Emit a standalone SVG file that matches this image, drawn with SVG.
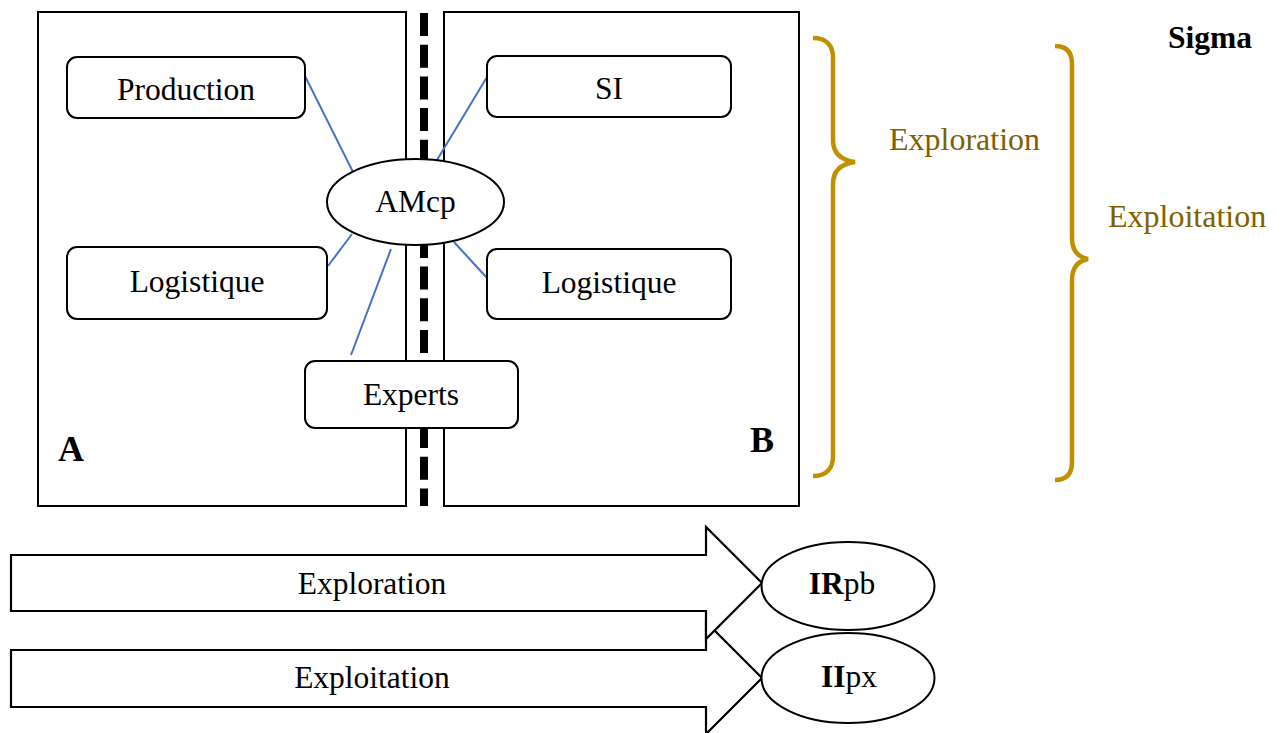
<svg xmlns="http://www.w3.org/2000/svg" width="1281" height="733" viewBox="0 0 1281 733" font-family="'Liberation Serif', 'Times New Roman', serif">
<style>
text{font-family:"Liberation Serif","Times New Roman",serif;font-size:31.5px;fill:#000}
.b{font-weight:bold}
.frame{fill:#fff;stroke:#000;stroke-width:2}
.node{fill:#fff;stroke:#000;stroke-width:2}
.link{stroke:#4472C4;stroke-width:2;fill:none}
.brace{fill:none;stroke:#BF9000;stroke-width:4.5}
.gold{fill:#806000;font-size:32px}
.arrow{fill:#fff;stroke:#000;stroke-width:2.2;stroke-linejoin:miter}
</style>
<rect width="1281" height="733" fill="#fff"/>
<g id="zoneA"><rect class="frame" x="38" y="12" width="368" height="494"/><text class="b" x="58" y="461" style="font-size:36px">A</text></g>
<g id="zoneB"><rect class="frame" x="444" y="12" width="355" height="494"/><text class="b" x="750" y="452" style="font-size:36px">B</text></g>
<line id="separator" x1="424" y1="13" x2="424" y2="506" stroke="#000" stroke-width="8" stroke-dasharray="23 8.7"/>
<g id="connectors">
<line class="link" x1="305" y1="76" x2="353" y2="172"/>
<line class="link" x1="487" y1="77" x2="437" y2="160"/>
<line class="link" x1="352" y1="234" x2="328" y2="266"/>
<line class="link" x1="391" y1="249" x2="351" y2="355"/>
<line class="link" x1="454" y1="242" x2="487" y2="278"/>
</g>
<g id="production"><rect class="node" x="67" y="57" width="238" height="61" rx="10"/><text x="186" y="100" text-anchor="middle">Production</text></g>
<g id="si"><rect class="node" x="487" y="56" width="244" height="61" rx="10"/><text x="609" y="99" text-anchor="middle">SI</text></g>
<g id="logistiqueA"><rect class="node" x="67" y="247" width="260" height="72" rx="10"/><text x="197" y="292" text-anchor="middle">Logistique</text></g>
<g id="logistiqueB"><rect class="node" x="487" y="249" width="244" height="70" rx="10"/><text x="609" y="293" text-anchor="middle">Logistique</text></g>
<g id="amcp"><ellipse class="node" cx="415.5" cy="202" rx="88.5" ry="43"/><text x="415.5" y="212" text-anchor="middle">AMcp</text></g>
<g id="experts"><rect class="node" x="305" y="361" width="213" height="67" rx="10"/><text x="411" y="405" text-anchor="middle">Experts</text></g>
<g id="braceExploration"><path class="brace" d="M813,38 C826,38 833,45 833,58 L833,140 C833,153 840,160 855,162 C840,164 833,171 833,184 L833,456 C833,469 826,476 813,476"/><text class="gold" x="889" y="150">Exploration</text></g>
<g id="braceExploitation"><path class="brace" d="M1055,46 C1066,46 1072,52 1072,64 L1072,238 C1072,250 1078,257 1088,259 C1078,261 1072,268 1072,280 L1072,462 C1072,474 1066,480 1055,480"/><text class="gold" x="1108" y="227">Exploitation</text></g>
<text id="sigma" class="b" x="1168" y="48">Sigma</text>
<g id="arrowExploitation"><polygon class="arrow" points="11,650 706,650 706,622 762,678 706,734 706,707 11,707"/><text x="372" y="688" text-anchor="middle">Exploitation</text></g>
<g id="arrowExploration"><polygon class="arrow" points="11,555 706,555 706,527 762,583 706,639 706,611 11,611"/><text x="372" y="594" text-anchor="middle">Exploration</text></g>
<g id="irpb"><ellipse class="node" cx="848" cy="586" rx="86.5" ry="44"/><text x="842" y="594" text-anchor="middle"><tspan class="b">IR</tspan>pb</text></g>
<g id="iipx"><ellipse class="node" cx="848" cy="678" rx="86.5" ry="45"/><text x="849" y="687" text-anchor="middle"><tspan class="b">II</tspan>px</text></g>
</svg>
